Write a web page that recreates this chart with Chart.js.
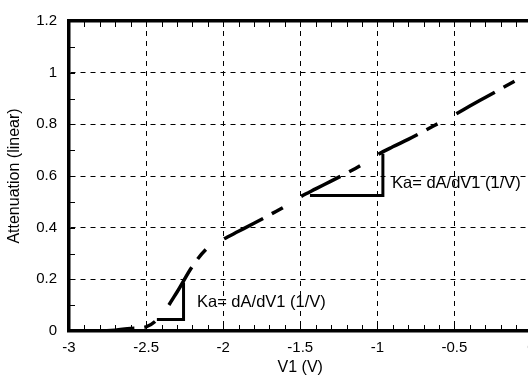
<!DOCTYPE html>
<html><head><meta charset="utf-8">
<script src="https://cdn.jsdelivr.net/npm/chart.js@4"></script>
<style>
html,body{margin:0;padding:0;overflow:hidden;background:#fff;width:528px;height:388px}
#wrap{position:absolute;left:0;top:0;width:560px;height:388px}
</style>
</head><body><div id="wrap"><canvas id="c" width="560" height="388"></canvas></div>
<script>
// Attenuation curve
const xValues = [-3.0,-2.9,-2.8,-2.7,-2.6,-2.5,-2.4,-2.3,-2.2,-2.1,-2.0,-1.9,-1.8,-1.7,-1.6,-1.5,-1.4,-1.3,-1.2,-1.1,-1.0,-0.9,-0.8,-0.7,-0.6,-0.5,-0.4,-0.3,-0.2,-0.1,0.0];
const yValues = [0,0,0,0.003,0.010,0.016,0.062,0.150,0.250,0.322,0.355,0.386,0.417,0.449,0.482,0.519,0.550,0.580,0.611,0.644,0.682,0.713,0.742,0.773,0.805,0.837,0.871,0.904,0.937,0.970,1.003];
// Slope triangles
const tri1X = [-2.43, -2.257, -2.257];
const tri1Y = [0.045, 0.045, 0.188];
const tri2X = [-1.437, -0.964, -0.964];
const tri2Y = [0.525, 0.525, 0.686];
// Annotations
const labelText = 'Ka= dA/dV1 (1/V)';
const labelX = [-2.17, -0.905];
const labelY = [0.112, 0.57];
// Tick labels
const xTickLabels = ['-3','-2.5','-2','-1.5','-1','-0.5','0'];
const yTickLabels = ['0','0.2','0.4','0.6','0.8','1','1.2'];

Chart.defaults.font.family = "'Liberation Sans', Arial, Helvetica, sans-serif";
Chart.defaults.color = '#000';

const toPts = (xs, ys) => xs.map((v, i) => ({x: v, y: ys[i]}));

const extras = {
  id: 'extras',
  afterDatasetsDraw(chart) {
    const {ctx, chartArea: a, scales: {x, y}} = chart;
    ctx.save();
    ctx.strokeStyle = '#000';
    ctx.lineWidth = 1;
    ctx.beginPath();
    for (let i = 0; i <= 30; i++) {
      const px = Math.round(x.getPixelForValue(-3 + i * 0.1)) + 0.5;
      ctx.moveTo(px, a.bottom); ctx.lineTo(px, a.bottom - 6);
      ctx.moveTo(px, a.top); ctx.lineTo(px, a.top + 6);
    }
    for (let i = 0; i <= 12; i++) {
      const py = Math.round(y.getPixelForValue(i * 0.1)) + 0.5;
      ctx.moveTo(a.left, py); ctx.lineTo(a.left + 6, py);
    }
    ctx.stroke();
    ctx.fillStyle = '#000';
    ctx.font = "16.5px 'Liberation Sans', Arial, sans-serif";
    ctx.textBaseline = 'middle';
    ctx.textAlign = 'left';
    labelX.forEach((lx, i) => ctx.fillText(labelText, x.getPixelForValue(lx), y.getPixelForValue(labelY[i])));
    ctx.restore();
  }
};

new Chart(document.getElementById('c'), {
  type: 'line',
  data: {
    datasets: [
      {data: toPts(xValues, yValues), borderColor: '#000', borderWidth: 3.5, borderDash: [44, 10, 12.5, 21.5], borderDashOffset: 66.5, pointRadius: 0, cubicInterpolationMode: 'monotone', fill: false, borderCapStyle: 'butt'},
      {data: toPts(tri1X, tri1Y), borderColor: '#000', borderWidth: 3, pointRadius: 0, tension: 0, fill: false},
      {data: toPts(tri2X, tri2Y), borderColor: '#000', borderWidth: 3, pointRadius: 0, tension: 0, fill: false}
    ]
  },
  options: {
    responsive: false, animation: false, devicePixelRatio: 1,
    layout: {padding: {left: 0, right: 28.5, top: 15.5, bottom: 0}},
    plugins: {legend: {display: false}, tooltip: {enabled: false}},
    scales: {
      x: {
        type: 'linear', position: 'bottom', min: -3, max: 0,
        ticks: {stepSize: 0.5, callback: (v, i) => xTickLabels[i], padding: 8, font: {size: 15}, color: '#000', maxRotation: 0, autoSkip: false},
        grid: {color: '#000', lineWidth: 1, drawTicks: false},
        border: {display: true, color: '#000', width: 3.5, dash: [5, 5]},
        title: {display: true, text: 'V1 (V)', font: {size: 16}, color: '#000', padding: {top: 0, bottom: 10.4}},
        afterFit: (s) => { s.height = 57; }
      },
      x2: {
        type: 'linear', position: 'top', min: -3, max: 0,
        ticks: {display: false},
        grid: {display: false, drawTicks: false},
        border: {display: true, color: '#000', width: 3.5},
        afterFit: (s) => { s.height = 0; }
      },
      y: {
        type: 'linear', position: 'left', min: 0, max: 1.2,
        ticks: {stepSize: 0.2, callback: (v, i) => yTickLabels[i], padding: 12, font: {size: 15}, color: '#000'},
        grid: {color: '#000', lineWidth: 1, drawTicks: false},
        border: {display: true, color: '#000', width: 3.5, dash: [5, 5]},
        title: {display: true, text: 'Attenuation (linear)', font: {size: 16}, color: '#000', padding: {top: 4.5, bottom: 0}},
        afterFit: (s) => { s.width = 69; }
      }
    }
  },
  plugins: [extras]
});
</script>
</body></html>
